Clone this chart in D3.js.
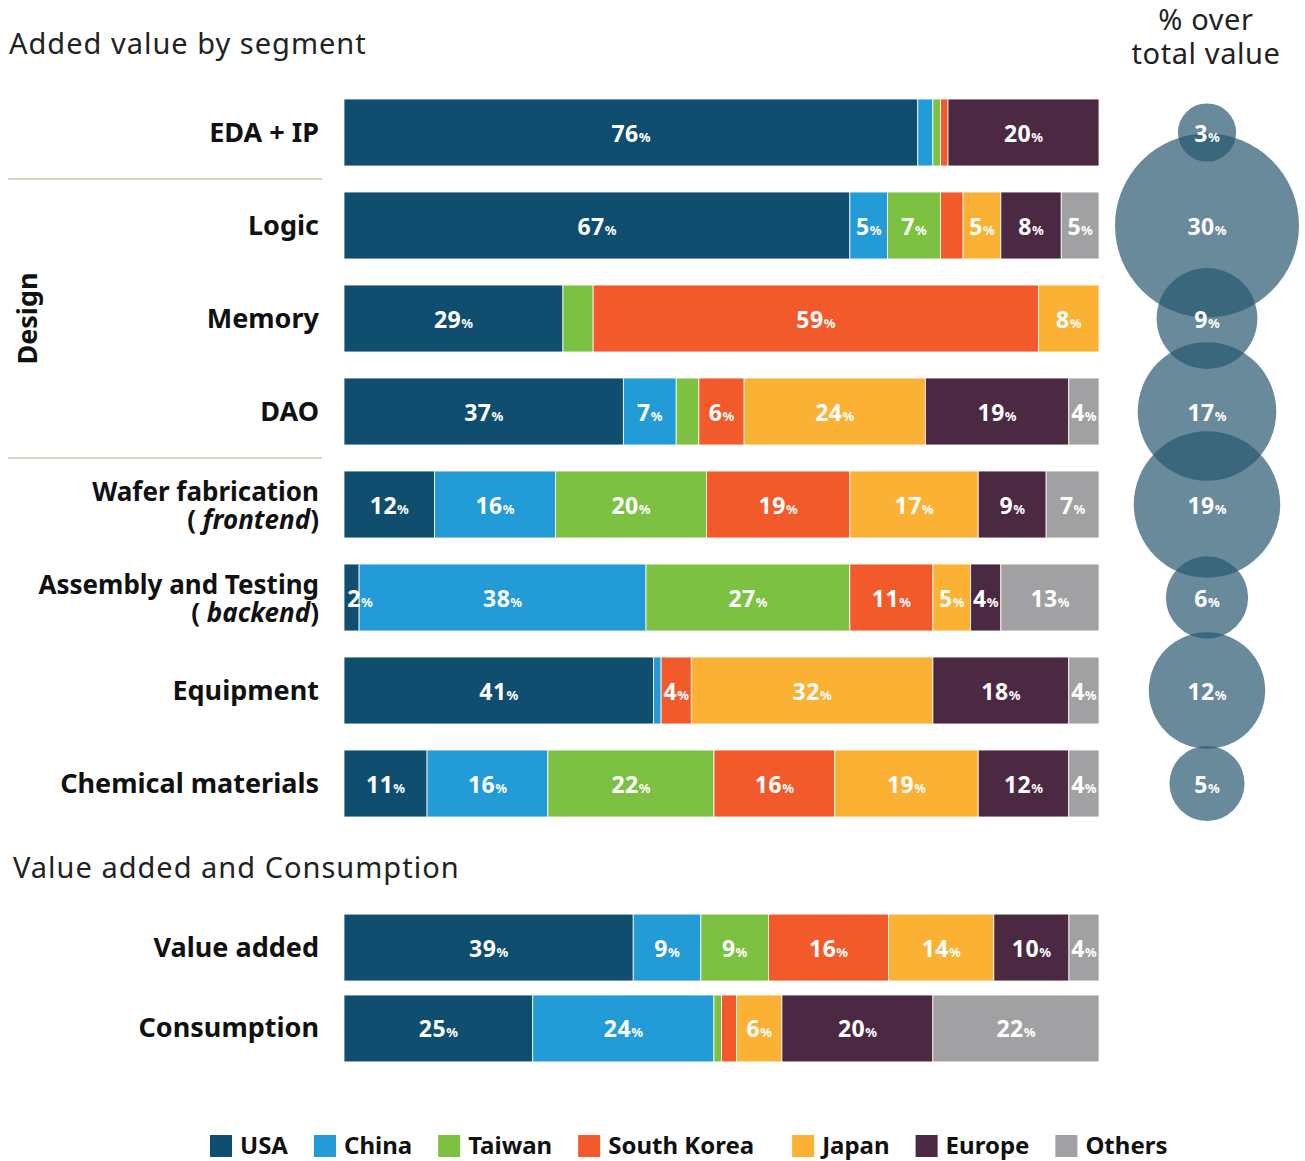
<!DOCTYPE html>
<html>
<head>
<meta charset="utf-8">
<script src="https://cdn.jsdelivr.net/npm/d3@7"></script>
<style>
  body { margin: 0; background: #fff; }
  text { font-family: "Noto Sans", "DejaVu Sans", sans-serif; }
  .cat { font-weight: 700; font-size: 27px; fill: #111; }
  .cat2 { font-weight: 700; font-size: 26px; fill: #111; }
  .title { font-size: 29px; fill: #222; letter-spacing: 1px; }
  .sub { font-size: 29px; fill: #222; letter-spacing: 0.6px; }
  .seg { font-weight: 700; font-size: 23px; fill: #fff; letter-spacing: 0.5px; }
  .pct { font-size: 13px; letter-spacing: 0; }
  .leg { font-weight: 700; font-size: 24px; fill: #111; }
</style>
</head>
<body>
<div id="chart"></div>
<script>
// countries (stack order)
var countries = ["USA", "China", "Taiwan", "South Korea", "Japan", "Europe", "Others"];
var colors = ["#0f4e6e", "#239bd7", "#7dc142", "#f25a2b", "#fbb133", "#4b2942", "#a1a1a4"];

// segments, top block
var segments = ["EDA + IP", "Logic", "Memory", "DAO", "Wafer fabrication|frontend",
  "Assembly and Testing|backend", "Equipment", "Chemical materials"];
var edaIp      = [76, 2, 1, 1, 0, 20, 0];
var logic      = [67, 5, 7, 3, 5, 8, 5];
var memory     = [29, 0, 4, 59, 8, 0, 0];
var dao        = [37, 7, 3, 6, 24, 19, 4];
var wafer      = [12, 16, 20, 19, 17, 9, 7];
var assembly   = [2, 38, 27, 11, 5, 4, 13];
var equipment  = [41, 1, 0, 4, 32, 18, 4];
var chemical   = [11, 16, 22, 16, 19, 12, 4];
var segValues = [edaIp, logic, memory, dao, wafer, assembly, equipment, chemical];

// share of total value (bubbles)
var totalShare = [3, 30, 9, 17, 19, 6, 12, 5];

// bottom block
var bottomCats = ["Value added", "Consumption"];
var valueAdded  = [38.5, 9, 9, 16, 14, 10, 4];
var consumption = [25, 24, 1, 2, 6, 20, 22];
var bottomValues = [valueAdded, consumption];

// labels left out / forced in
var noLabel = ["Memory|Taiwan"];
var forceLabel = ["Assembly and Testing|backend|USA"];

var W = 1305, H = 1161;
var svg = d3.select("#chart").append("svg").attr("width", W).attr("height", H);

var yTop = d3.scaleBand().domain(segments).range([86, 830]).paddingInner(0.28).paddingOuter(0.14);
var yBot = d3.scaleBand().domain(bottomCats).range([906, 1070]).paddingInner(0.173).paddingOuter(0.1);
var r = d3.scaleSqrt().domain([0, 30]).range([0, 92]);

function stackRow(name, vals) {
  var acc = 0;
  return vals.map(function(v, i) {
    var d = { cat: name, country: countries[i], v: v, x0: acc, x1: acc + v, color: colors[i] };
    acc += v;
    return d;
  }).filter(function(d) { return d.v > 0; });
}

function drawRows(cats, values, y) {
  cats.forEach(function(name, k) {
    var g = svg.append("g");
    var rows = stackRow(name, values[k]);
    // each bar fills the full width
    var x = d3.scaleLinear().domain([0, d3.sum(values[k])]).range([344, 1099]);
    g.selectAll("rect").data(rows).enter().append("rect")
      .attr("x", d => x(d.x0))
      .attr("width", d => x(d.x1) - x(d.x0))
      .attr("y", y(name))
      .attr("height", y.bandwidth())
      .attr("fill", d => d.color)
      .attr("stroke", "#fff").attr("stroke-width", 0.8);

    var lab = rows.filter(function(d) {
      var key = d.cat + "|" + d.country;
      if (noLabel.indexOf(key) >= 0) return false;
      if (forceLabel.indexOf(key) >= 0) return true;
      return d.v >= 4;
    });
    var t = g.selectAll("text").data(lab).enter().append("text")
      .attr("class", "seg")
      .attr("x", d => Math.max(x((d.x0 + d.x1) / 2), 360))
      .attr("y", y(name) + y.bandwidth() / 2 + 9)
      .attr("text-anchor", "middle");
    t.append("tspan").text(d => Math.round(d.v));
    t.append("tspan").attr("class", "pct").text("%");

    // category label
    var parts = name.split("|");
    if (parts.length === 1) {
      svg.append("text").attr("class", "cat").attr("text-anchor", "end").attr("x", 319)
        .attr("y", y(name) + y.bandwidth() / 2 + 9).text(name);
    } else {
      svg.append("text").attr("class", "cat2").attr("text-anchor", "end").attr("x", 319)
        .attr("y", y(name) + y.bandwidth() / 2 - 4).text(parts[0]);
      var l2 = svg.append("text").attr("class", "cat2").attr("text-anchor", "end").attr("x", 319)
        .attr("y", y(name) + y.bandwidth() / 2 + 24);
      l2.append("tspan").text("( ");
      l2.append("tspan").attr("font-style", "italic").text(parts[1]);
      l2.append("tspan").text(")");
    }
  });
}

drawRows(segments, segValues, yTop);
drawRows(bottomCats, bottomValues, yBot);

// separators around Design block
[segments[0], segments[3]].forEach(function(s) {
  var yy = yTop(s) + yTop.bandwidth() + yTop.step() * yTop.paddingInner() / 2;
  svg.append("line").attr("x1", 8).attr("x2", 322).attr("y1", yy).attr("y2", yy)
    .attr("stroke", "#cfc6a8").attr("stroke-width", 1.5);
});
var designMid = (yTop("Logic") + yTop("DAO") + yTop.bandwidth()) / 2;
svg.append("text").attr("class", "cat")
  .attr("transform", "translate(37," + designMid + ") rotate(-90)")
  .attr("text-anchor", "middle").text("Design");

// titles
svg.append("text").attr("class", "title").attr("x", 9).attr("y", 54).text("Added value by segment");
svg.append("text").attr("class", "title").attr("x", 13).attr("y", 878).text("Value added and Consumption");
svg.append("text").attr("class", "sub").attr("x", 1206).attr("y", 30).attr("text-anchor", "middle").text("% over");
svg.append("text").attr("class", "sub").attr("x", 1206).attr("y", 64).attr("text-anchor", "middle").text("total value");

// bubbles
var bub = segments.map(function(s, i) { return { s: s, v: totalShare[i] }; });
svg.append("g").selectAll("circle").data(bub).enter().append("circle")
  .attr("cx", 1207)
  .attr("cy", d => yTop(d.s) + yTop.bandwidth() / 2)
  .attr("r", d => r(d.v))
  .attr("fill", "rgb(40,88,112)")
  .attr("fill-opacity", 0.7);
var bt = svg.append("g").selectAll("text").data(bub).enter().append("text")
  .attr("class", "seg")
  .attr("x", 1207)
  .attr("y", d => yTop(d.s) + yTop.bandwidth() / 2 + 9)
  .attr("text-anchor", "middle");
bt.append("tspan").text(d => d.v);
bt.append("tspan").attr("class", "pct").text("%");

// legend
var lg = svg.append("g");
var lx = 210;
countries.forEach(function(c, i) {
  lg.append("rect").attr("x", lx).attr("y", 1135).attr("width", 22).attr("height", 22).attr("fill", colors[i]);
  var t = lg.append("text").attr("class", "leg").attr("x", lx + 30).attr("y", 1154).text(c);
  var w = t.node().getComputedTextLength();
  lx += 30 + w + (c === "South Korea" ? 38 : 26);
});
</script>
</body>
</html>
